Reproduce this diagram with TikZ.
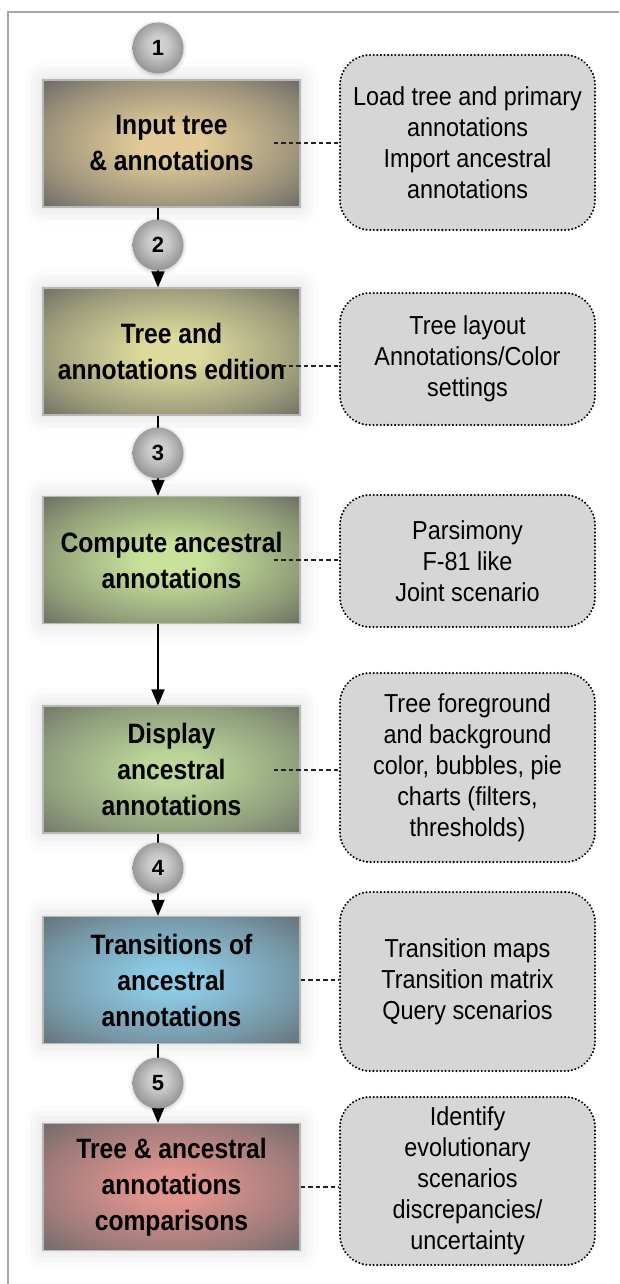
\documentclass[tikz,border=0pt]{standalone}
\usepackage{fontspec}
\setmainfont{Liberation Sans}
\newfontfamily\stepfont[FakeStretch=0.88]{Liberation Sans}
\newfontfamily\notefont[FakeStretch=0.9]{Liberation Sans}
\usetikzlibrary{arrows.meta,shadows.blur}

\definecolor{frameline}{HTML}{A8A8A8}
\definecolor{notefill}{HTML}{D6D6D6}
\definecolor{linkgray}{HTML}{222222}
\colorlet{cin}{white}
\colorlet{cout}{gray}

% radial glow: light centre fading to a greyish rim
\pgfdeclareradialshading[cin,cout]{glowbox}{\pgfpoint{0bp}{0bp}}{%
  color(0bp)=(cin); color(6bp)=(cin); color(25bp)=(cin!40!cout);
  color(35bp)=(cout); color(50bp)=(cout)}
\pgfdeclareradialshading{ballgray}{\pgfpoint{0bp}{4bp}}{%
  color(0bp)=(black!16); color(10bp)=(black!21); color(25bp)=(black!40);
  color(50bp)=(black!40)}

\begin{document}
\begin{tikzpicture}[x=1pt,y=-1pt,
  tint/.code 2 args={\definecolor{cin}{HTML}{#1}\definecolor{cout}{HTML}{#2}},
  stepbox/.style={rectangle, minimum width=257pt, minimum height=127pt,
    inner sep=0pt, align=center, draw=black!28, line width=1.2pt,
    shading=glowbox,
    font=\stepfont\bfseries\fontsize{28}{36}\selectfont,
    blur shadow={shadow xshift=0pt, shadow yshift=0pt,
      shadow blur radius=18pt, shadow opacity=16}},
  notebox/.style={rectangle, rounded corners=30pt, minimum width=255pt,
    inner sep=0pt, align=center, fill=notefill, draw=black,
    line width=2.3pt, line cap=round, dash pattern=on 0.01pt off 3.6pt,
    font=\notefont\fontsize{26}{31}\selectfont},
  stepnum/.style={circle, minimum size=51pt, inner sep=0pt,
    shading=ballgray, font=\bfseries\fontsize{22}{22}\selectfont,
    blur shadow={shadow xshift=0pt, shadow yshift=-1pt,
      shadow blur radius=4pt, shadow opacity=25}},
  flow/.style={line width=1.7pt, draw=black,
    -{Triangle[width=13pt,length=16pt]}},
  link/.style={line width=2pt, draw=linkgray, dash pattern=on 4.5pt off 3pt}]

\useasboundingbox (0,0) rectangle (619,1284);

% frame
\draw[frameline, line width=1.4pt] (619,12) -- (8,12) -- (8,1284);

% workflow steps
\node[stepbox, tint={E2CB98}{6F6D68}] (b1) at (171.5,143.5)
  {Input tree\\\& annotations};
\node[stepbox, tint={DCDA9C}{737366}] (b2) at (171.5,351.5)
  {Tree and\\annotations edition};
\node[stepbox, tint={C8E29A}{6E7264}] (b3) at (171.5,560)
  {Compute ancestral\\annotations};
\node[stepbox, tint={BBD59A}{737A6A}] (b4) at (171.5,769.5)
  {Display\\ancestral\\annotations};
\node[stepbox, tint={8CC9E2}{67747C}] (b5) at (171.5,980)
  {Transitions of\\ancestral\\annotations};
\node[stepbox, tint={E0948E}{746B6C}] (b6) at (171.5,1187)
  {Tree \& ancestral\\annotations\\comparisons};

% notes
\node[notebox, minimum height=175pt] (r1) at (467.5,142.5)
  {Load tree and primary\\annotations\\Import ancestral\\annotations};
\node[notebox, minimum height=132pt] (r2) at (467.5,359)
  {Tree layout\\Annotations/Color\\settings};
\node[notebox, minimum height=132pt] (r3) at (467.5,561)
  {Parsimony\\F-81 like\\Joint scenario};
\node[notebox, minimum height=189pt] (r4) at (467.5,767.5)
  {Tree foreground\\and background\\color, bubbles, pie\\charts (filters,\\thresholds)};
\node[notebox, minimum height=179pt] (r5) at (467.5,981.5)
  {Transition maps\\Transition matrix\\Query scenarios};
\node[notebox, minimum height=168pt] (r6) at (467.5,1181)
  {Identify\\evolutionary\\scenarios\\discrepancies/\\uncertainty};

% flow between steps
\draw[flow] (b1.south -| 158,0) -- (b2.north -| 158,0);
\draw[flow] (b2.south -| 158,0) -- (b3.north -| 158,0);
\draw[flow] (b3.south -| 158,0) -- (b4.north -| 158,0);
\draw[flow] (b4.south -| 158,0) -- (b5.north -| 158,0);
\draw[flow] (b5.south -| 158,0) -- (b6.north -| 158,0);

% step numbers, on top of the flow lines
\node[stepnum] (c1) at (158,48) {1};
\node[stepnum] (c2) at (158,245) {2};
\node[stepnum] (c3) at (158,453) {3};
\node[stepnum] (c4) at (158,868) {4};
\node[stepnum] (c5) at (158,1083) {5};

% links from steps to their notes
\draw[link] ([xshift=-27pt]b1.east) -- (r1.west |- b1.east);
\draw[link] ([xshift=-27pt,yshift=-14pt]b2.east) -- ([yshift=-14pt]r2.west |- b2.east);
\draw[link] ([xshift=-27pt]b3.east) -- (r3.west |- b3.east);
\draw[link] ([xshift=-27pt]b4.east) -- (r4.west |- b4.east);
\draw[link] (b5.east) -- (r5.west |- b5.east);
\draw[link] (b6.east) -- (r6.west |- b6.east);
\end{tikzpicture}
\end{document}
